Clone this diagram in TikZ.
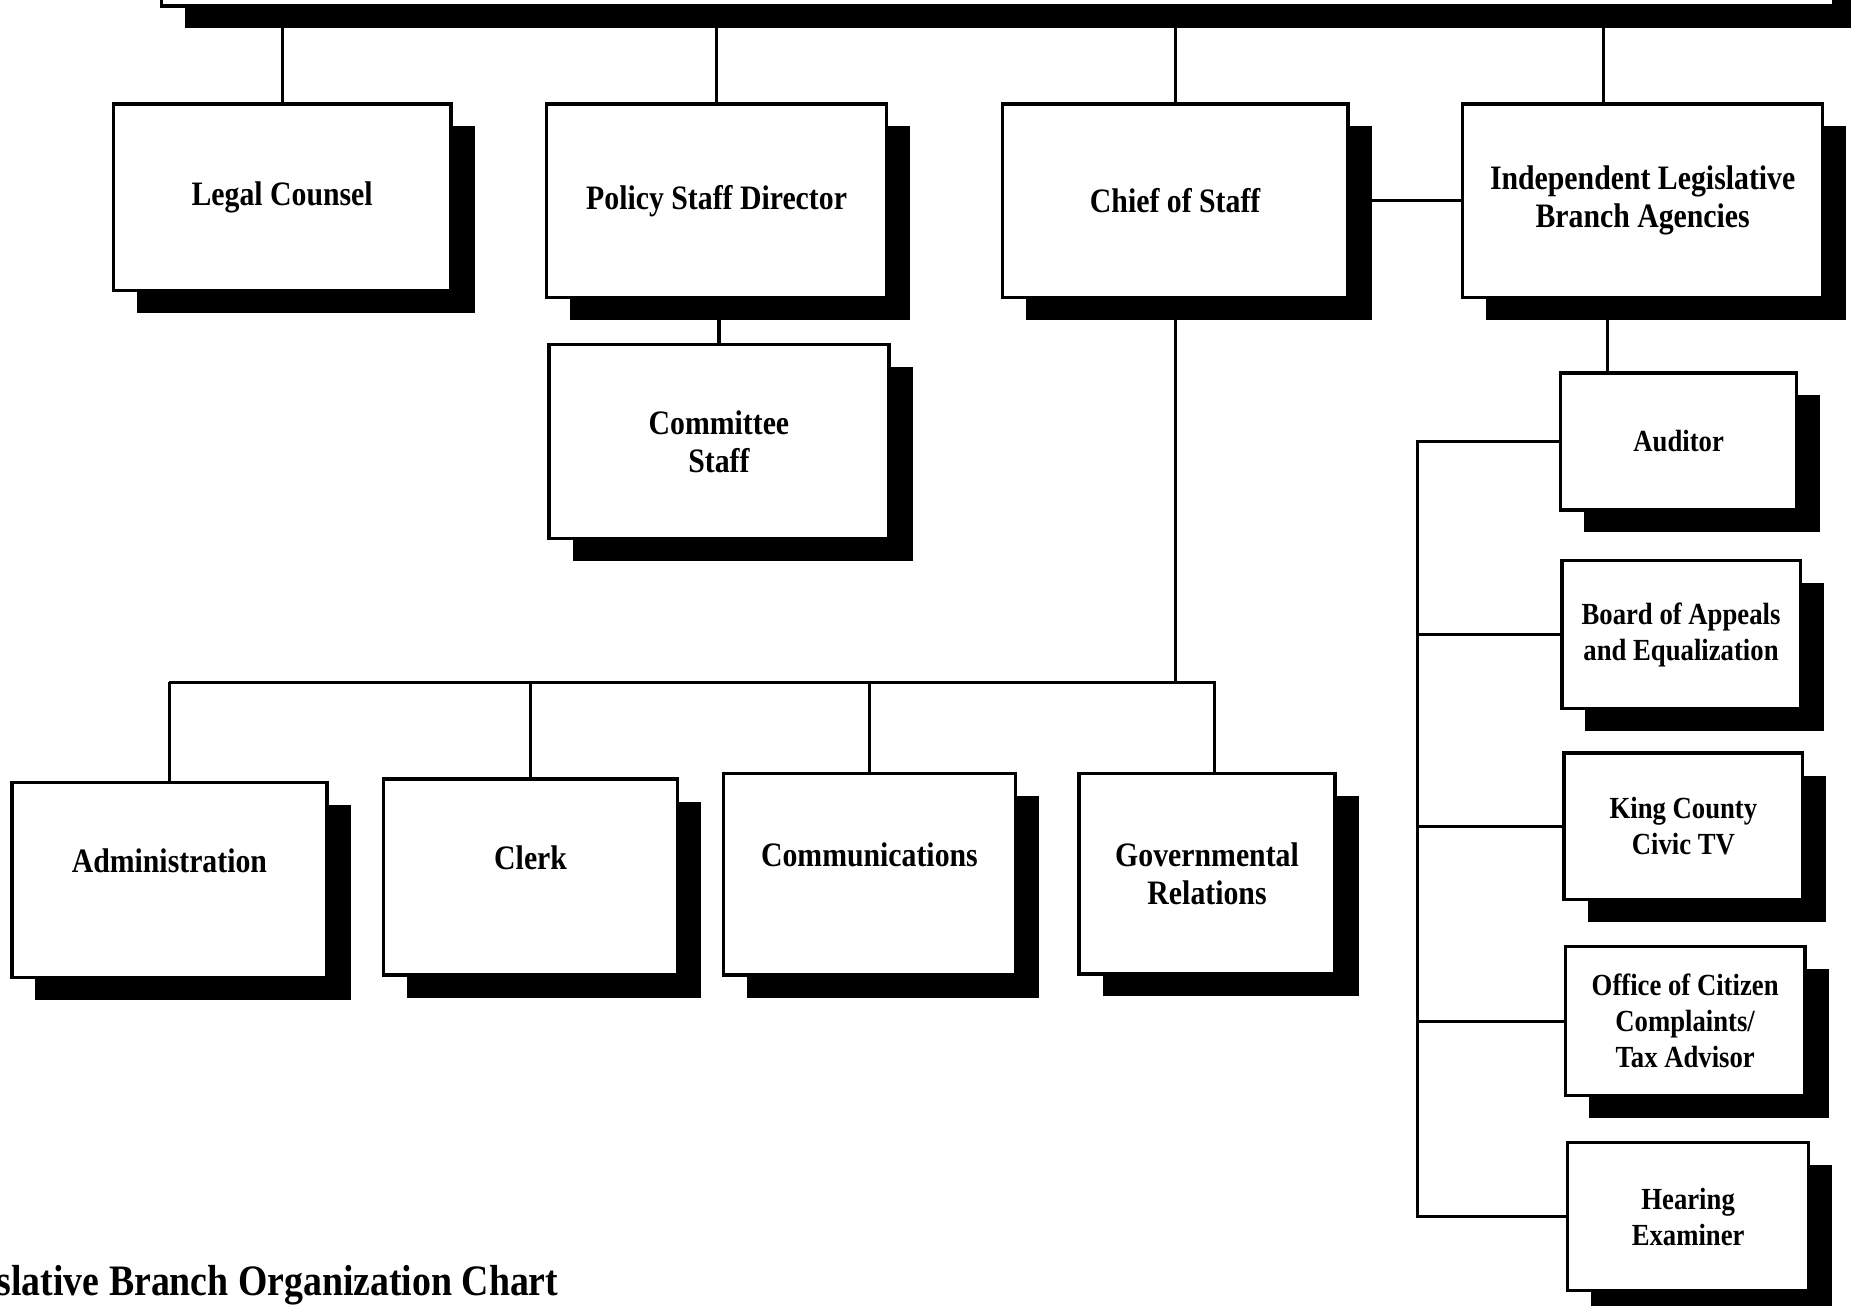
\documentclass[tikz,border=0pt]{standalone}
\usepackage{fontspec}
\setmainfont[FakeStretch=0.87]{Liberation Serif}
\usetikzlibrary{shadows}

\begin{document}
\begin{tikzpicture}[x=1pt, y=-1pt,
    unit/.style = {shape=rectangle, draw, line width=2.9pt, fill=white,
        align=center, inner sep=0pt,
        font=\bfseries\fontsize{29}{32}\selectfont,
        drop shadow={shadow xshift=20pt, shadow yshift=-19pt,
            fill=black, opacity=1}},
    small/.style = {font=\bfseries\fontsize{26}{30.5}\selectfont},
    raised/.style = {text depth=33pt},
    link/.style = {line width=2.7pt}]
\clip (0,0) rectangle (1568,1106);
% council box, cut off at the top
\node[unit, minimum width=1416pt, minimum height=105pt] (council) at (845,-47.5) {};
% first row
\node[unit, minimum width=286pt, minimum height=158pt] (legal) at (239,167) {Legal Counsel};
\node[unit, minimum width=288pt, minimum height=164pt] (policy) at (607,170) {Policy Staff Director};
\node[unit, minimum width=293pt, minimum height=164pt] (chief) at (995.5,170) {Chief of Staff};
\node[unit, minimum width=305pt, minimum height=164pt] (agencies) at (1391.5,170)
    {Independent Legislative\\Branch Agencies};
\node[unit, minimum width=288pt, minimum height=164pt] (committee) at (609,374) {Committee\\Staff};
% chief of staff row
\node[unit, raised, minimum width=267pt, minimum height=165pt] (admin) at (143.5,745.5) {Administration};
\node[unit, raised, minimum width=249pt, minimum height=166pt] (clerk) at (449.5,743) {Clerk};
\node[unit, raised, minimum width=247pt, minimum height=171pt] (comm) at (736.5,740.5) {Communications};
\node[unit, minimum width=217pt, minimum height=170pt] (gov) at (1022.5,740) {Governmental\\Relations};
% agencies column
\node[unit, small, minimum width=200pt, minimum height=116pt] (auditor) at (1422,374) {Auditor};
\node[unit, small, minimum width=202pt, minimum height=125pt] (appeals) at (1424,537.5)
    {Board of Appeals\\and Equalization};
\node[unit, small, minimum width=202pt, minimum height=124pt] (civictv) at (1426,700) {King County\\Civic TV};
\node[unit, small, minimum width=203pt, minimum height=126pt] (citizen) at (1427.5,865)
    {Office of Citizen\\Complaints/\\Tax Advisor};
\node[unit, small, minimum width=204pt, minimum height=125pt] (hearing) at (1430,1030.5) {Hearing\\Examiner};
% title
\node[anchor=base west, inner sep=0pt, font=\bfseries\fontsize{36.8}{40}\selectfont] (title)
    at (-3,1097) {slative Branch Organization Chart};

% connectors
\foreach \n in {legal, policy, chief}
    \draw[link] (\n.north) -- (\n.north |- council.south);
\draw[link] ([xshift=-33.5pt]agencies.north) -- ([xshift=-33.5pt]agencies.north |- council.south);
\draw[link] (committee.north) -- (committee.north |- policy.south);
\draw[link] (chief.east) -- (agencies.west);
\coordinate (lbus) at (0,578);
\draw[link] (chief.south) -- (chief.south |- lbus);
\draw[link] (admin.north |- lbus) -- ([xshift=6.5pt]gov.north |- lbus) -- ([xshift=6.5pt]gov.north);
\foreach \n in {admin, clerk, comm}
    \draw[link] (\n.north) -- (\n.north |- lbus);
\draw[link] ([xshift=-29.5pt]agencies.south) -- ([xshift=-29.5pt]agencies.south |- auditor.north);
\coordinate (rbus) at (1201,0);
\draw[link] (auditor.west) -- (auditor.west -| rbus) -- (hearing.west -| rbus) -- (hearing.west);
\foreach \n in {appeals, civictv, citizen}
    \draw[link] (\n.west) -- (\n.west -| rbus);
\end{tikzpicture}
\end{document}
